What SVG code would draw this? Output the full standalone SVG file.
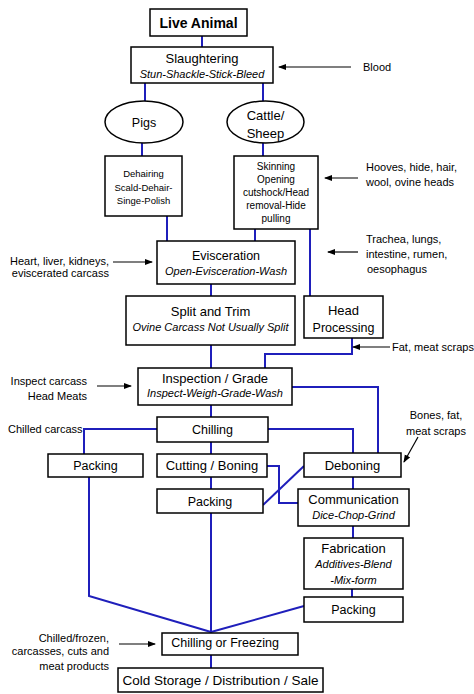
<svg xmlns="http://www.w3.org/2000/svg" width="474" height="694" viewBox="0 0 474 694">
<defs>
<marker id="ah" markerUnits="userSpaceOnUse" markerWidth="8" markerHeight="7" refX="7" refY="3.5" orient="auto">
<path d="M0,0.5 L8,3.5 L0,6.5 Z" fill="#000"/>
</marker>
<style>
.box{fill:#fff;stroke:#000;stroke-width:1.5}
text{font-family:"Liberation Sans",Arial,sans-serif;fill:#000}
.m{text-anchor:middle}
.e{text-anchor:end}
.h{font-size:13px}
.i{font-size:11px;font-style:italic}
.s{font-size:11px}
.c{fill:none;stroke:#1f1fbb;stroke-width:2}
.a{fill:none;stroke:#000;stroke-width:1.2;marker-end:url(#ah)}
</style>
</defs>
<rect width="474" height="694" fill="#fff"/>
<g id="connectors">
<path class="c" d="M202,36 V47"/>
<path class="c" d="M145,83 V101"/>
<path class="c" d="M263,83 V101"/>
<path class="c" d="M142,143 V156"/>
<path class="c" d="M263,143 V156"/>
<path class="c" d="M167,216 V241"/>
<path class="c" d="M255,229 V241"/>
<path class="c" d="M310,229 V296"/>
<path class="c" d="M211,284 V296"/>
<path class="c" d="M211,345 V368"/>
<path class="c" d="M352,338 V354 H265 V368"/>
<path class="c" d="M292,387 H378 V453"/>
<path class="c" d="M211,405 V417"/>
<path class="c" d="M157,429 H84 V454"/>
<path class="c" d="M268,429 H353 V453"/>
<path class="c" d="M211,442 V454"/>
<path class="c" d="M211,477 V489"/>
<path class="c" d="M267,466 H279 V503 H298"/>
<path class="c" d="M263,505 L304,466"/>
<path class="c" d="M353,477 V489"/>
<path class="c" d="M353,526 V538"/>
<path class="c" d="M352,589 V597"/>
<path class="c" d="M89,477 V596 L211,632"/>
<path class="c" d="M211,513 V633"/>
<path class="c" d="M304,606 L211,632"/>
<path class="c" d="M211,655 V668"/>
<path class="a" d="M351,67 H279"/>
<path class="a" d="M358,178 H325"/>
<path class="a" d="M358,252 H328"/>
<path class="a" d="M113,262 H152"/>
<path class="a" d="M390,347 H353"/>
<path class="a" d="M97,386 H131"/>
<path class="a" d="M418,437 L404,462"/>
<path class="a" d="M119,644 H155"/>
</g>
<g id="live-animal"><rect class="box" x="150" y="9" width="97" height="27"/><text class="m" x="198.5" y="27.5" font-size="14" font-weight="bold">Live Animal</text></g>
<g id="slaughtering"><rect class="box" x="131" y="47" width="142" height="36"/><text class="m h" x="202" y="62.5">Slaughtering</text><text class="m i" x="202" y="78">Stun-Shackle-Stick-Bleed</text></g>
<g id="pigs"><ellipse class="box" cx="144" cy="122" rx="39" ry="21"/><text class="m" x="144" y="126.5" font-size="12.5">Pigs</text></g>
<g id="cattle-sheep"><ellipse class="box" cx="265.5" cy="122" rx="38.5" ry="21"/><text class="m h" x="265.5" y="119.5">Cattle/</text><text class="m h" x="265.5" y="137.5">Sheep</text></g>
<g id="dehairing"><rect class="box" x="105" y="156" width="77" height="60"/><text class="m" font-size="9.5" x="143.5" y="177.3">Dehairing</text><text class="m" font-size="9.5" x="143.5" y="191.3">Scald-Dehair-</text><text class="m" font-size="9.5" x="143.5" y="204.3">Singe-Polish</text></g>
<g id="skinning"><rect class="box" x="234" y="156" width="84" height="73"/><text class="m" font-size="10" x="276" y="169.5">Skinning</text><text class="m" font-size="10" x="276" y="182.5">Opening</text><text class="m" font-size="10" x="276" y="195.5">cutshock/Head</text><text class="m" font-size="10" x="276" y="208.5">removal-Hide</text><text class="m" font-size="10" x="276" y="221.5">pulling</text></g>
<g id="evisceration"><rect class="box" x="157" y="241" width="138" height="43"/><text class="m" font-size="12.5" x="226" y="259.5">Evisceration</text><text class="m i" x="226" y="275">Open-Evisceration-Wash</text></g>
<g id="split-trim"><rect class="box" x="126" y="296" width="169" height="49"/><text class="m h" x="210.5" y="315.5">Split and Trim</text><text class="m i" x="210.5" y="331">Ovine Carcass Not Usually Split</text></g>
<g id="head-processing"><rect class="box" x="304" y="296" width="79" height="42"/><text class="m h" x="343.5" y="314.5">Head</text><text class="m" font-size="12.5" x="343.5" y="331.5">Processing</text></g>
<g id="inspection"><rect class="box" x="138" y="368" width="154" height="37"/><text class="m h" x="215" y="382.5">Inspection / Grade</text><text class="m i" x="215" y="397">Inspect-Weigh-Grade-Wash</text></g>
<g id="chilling"><rect class="box" x="157" y="417" width="111" height="25"/><text class="m" font-size="12.5" x="212.5" y="434">Chilling</text></g>
<g id="packing-1"><rect class="box" x="48" y="454" width="95" height="23"/><text class="m" font-size="12.5" x="95.5" y="470">Packing</text></g>
<g id="cutting-boning"><rect class="box" x="157" y="454" width="110" height="23"/><text class="m h" x="212" y="470">Cutting / Boning</text></g>
<g id="deboning"><rect class="box" x="304" y="453" width="97" height="24"/><text class="m h" x="352.5" y="469.5">Deboning</text></g>
<g id="packing-2"><rect class="box" x="157" y="489" width="106" height="24"/><text class="m" font-size="12.5" x="210" y="505.5">Packing</text></g>
<g id="communication"><rect class="box" x="298" y="489" width="111" height="37"/><text class="m h" x="353.5" y="503.5">Communication</text><text class="m i" x="353.5" y="519">Dice-Chop-Grind</text></g>
<g id="fabrication"><rect class="box" x="304" y="538" width="99" height="51"/><text class="m h" x="353.5" y="552.5">Fabrication</text><text class="m i" x="353.5" y="568">Additives-Blend</text><text class="m i" x="353.5" y="584">-Mix-form</text></g>
<g id="packing-3"><rect class="box" x="304" y="597" width="99" height="25"/><text class="m" font-size="12.5" x="353.5" y="613.5">Packing</text></g>
<g id="chilling-freezing"><rect class="box" x="162" y="633" width="136" height="22"/><text class="m" font-size="12.5" x="225" y="646.5">Chilling or Freezing</text></g>
<g id="cold-storage"><rect class="box" x="118" y="668" width="205" height="24"/><text class="m" font-size="13.5" x="220.5" y="685">Cold Storage / Distribution / Sale</text></g>
<g id="labels">
<text class="s" x="363" y="71">Blood</text>
<text class="s" x="366" y="171">Hooves, hide, hair,</text>
<text class="s" x="366" y="186">wool, ovine heads</text>
<text class="s" x="366" y="243">Trachea, lungs,</text>
<text class="s" x="366" y="258">intestine, rumen,</text>
<text class="s" x="367" y="273">oesophagus</text>
<text class="s e" x="109" y="265">Heart, liver, kidneys,</text>
<text class="s e" x="109" y="277">eviscerated carcass</text>
<text class="s" x="392" y="351">Fat, meat scraps</text>
<text class="s e" x="87" y="385">Inspect carcass</text>
<text class="s e" x="87" y="400">Head Meats</text>
<text class="s" x="8" y="433">Chilled carcass</text>
<text class="s m" x="436" y="419">Bones, fat,</text>
<text class="s m" x="436" y="435">meat scraps</text>
<text class="s e" x="109" y="642">Chilled/frozen,</text>
<text class="s e" x="109" y="655">carcasses, cuts and</text>
<text class="s e" x="109" y="670">meat products</text>
</g>
</svg>
